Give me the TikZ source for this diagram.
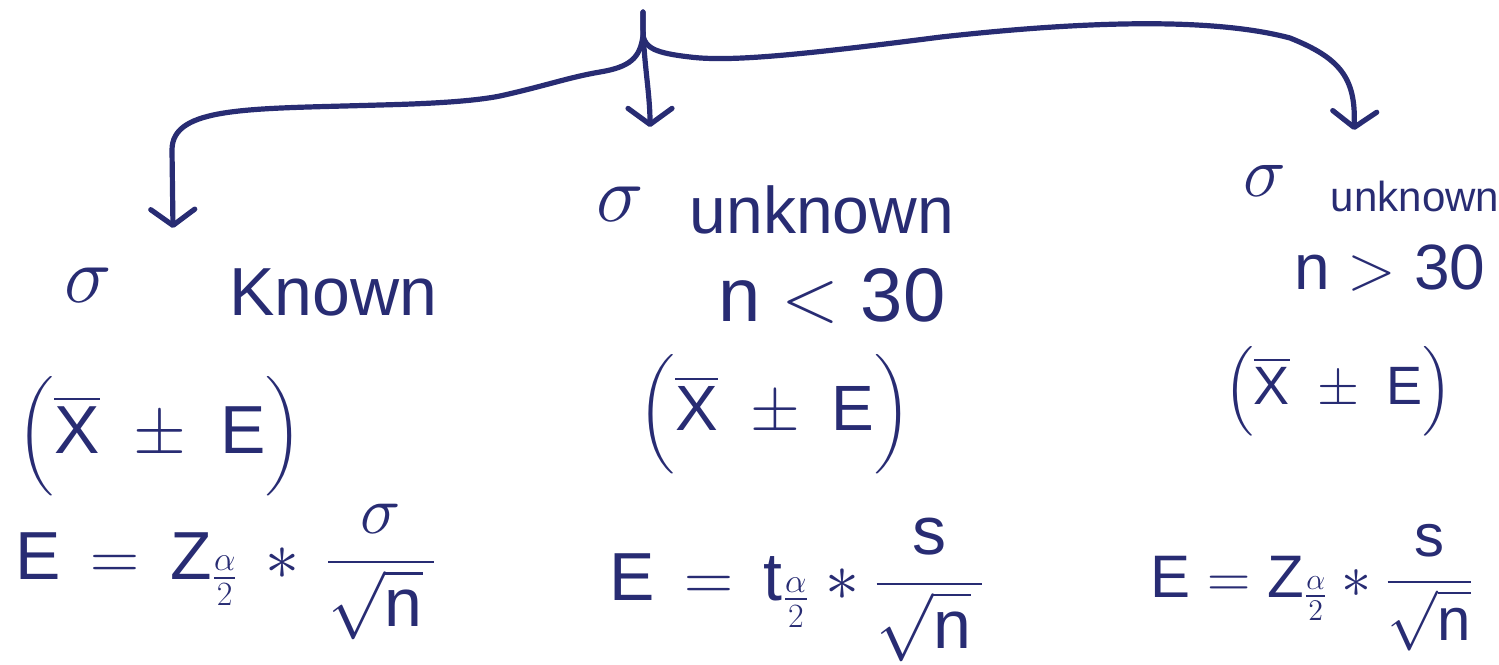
\RequirePackage{fix-cm}
\documentclass[tikz,border=0pt]{standalone}
\usepackage{amsmath}
\usepackage{fontspec}
\setmainfont{Liberation Sans}
\usetikzlibrary{arrows.meta}
\definecolor{ink}{RGB}{40,44,115}
\newcommand{\xbarE}{\Bigl(\overline{\mathrm{X}}\;\pm\;\mathrm{E}\Bigr)}
\begin{document}
\begin{tikzpicture}[x=0.5pt,y=-0.5pt,
  conn/.style={draw=ink,line width=2.6pt,line cap=round,-{Straight Barb[length=8pt,width=22pt,round]}},
  hand/.style={text=ink,inner sep=0pt,anchor=center},
  fs/.style={font=\fontsize{#1}{#1}\selectfont}]
\useasboundingbox (0,0) rectangle (1499,664);
% fork
\coordinate (top) at (643,12);
\coordinate (fork) at (643,36);
\coordinate (lefttip) at (173,228);
\coordinate (midtip) at (650,127);
\coordinate (righttip) at (1354,130);
\draw[conn] (top) .. controls (642,55) and (650,90) .. (midtip);
\draw[conn] (top) -- (fork) .. controls (640,58) and (630,67) .. (600,72)
  .. controls (570,77) and (545,86) .. (500,96)
  .. controls (470,102) and (420,104) .. (380,105)
  .. controls (250,109) and (172,106) .. (172,150) -- (lefttip);
\draw[conn] (fork) .. controls (646,48) and (655,53) .. (690,57)
  .. controls (730,62) and (800,55) .. (941,37)
  .. controls (1050,25) and (1200,14) .. (1290,38)
  .. controls (1340,58) and (1356,78) .. (righttip);
% left column
\node[hand,fs=40] (ls) at (88,285) {$\sigma$};
\node[hand,fs=34] (lk) at (333,292) {Known};
\node[hand,fs=34] (lx) at (160,436) {$\xbarE$};
\node[hand,fs=34,anchor=west] (lf) at (15,572) {$\mathrm{E}\,=\,\mathrm{Z}_{\frac{\alpha}{2}}\,*\,\dfrac{\,\sigma\,}{\sqrt{\mathrm{n}}\,}$};
% middle column
\node[hand,fs=40] (ms) at (620,204) {$\sigma$};
\node[hand,fs=33] (mu) at (822,210) {unknown};
\node[hand,fs=38] (mn) at (832,296) {n $<$ 30};
\node[hand,fs=32] (mx) at (775,414) {$\xbarE$};
\node[hand,fs=34] (mf) at (797,590) {$\mathrm{E}\,=\,\mathrm{t}_{\frac{\alpha}{2}} * \dfrac{\mathrm{s}}{\sqrt{\mathrm{n}}\,}$};
% right column
\node[hand,fs=36] (rs) at (1265,181) {$\sigma$};
\node[hand,fs=21] (ru) at (1415,196) {unknown};
\node[hand,fs=32] (rn) at (1390,268) {n $>$ 30};
\node[hand,fs=27] (rx) at (1338,391) {$\xbarE$};
\node[hand,fs=30] (rf) at (1312,588) {$\mathrm{E} = \mathrm{Z}_{\frac{\alpha}{2}} * \dfrac{\mathrm{s}}{\sqrt{\mathrm{n}}}$};
\end{tikzpicture}
\end{document}
